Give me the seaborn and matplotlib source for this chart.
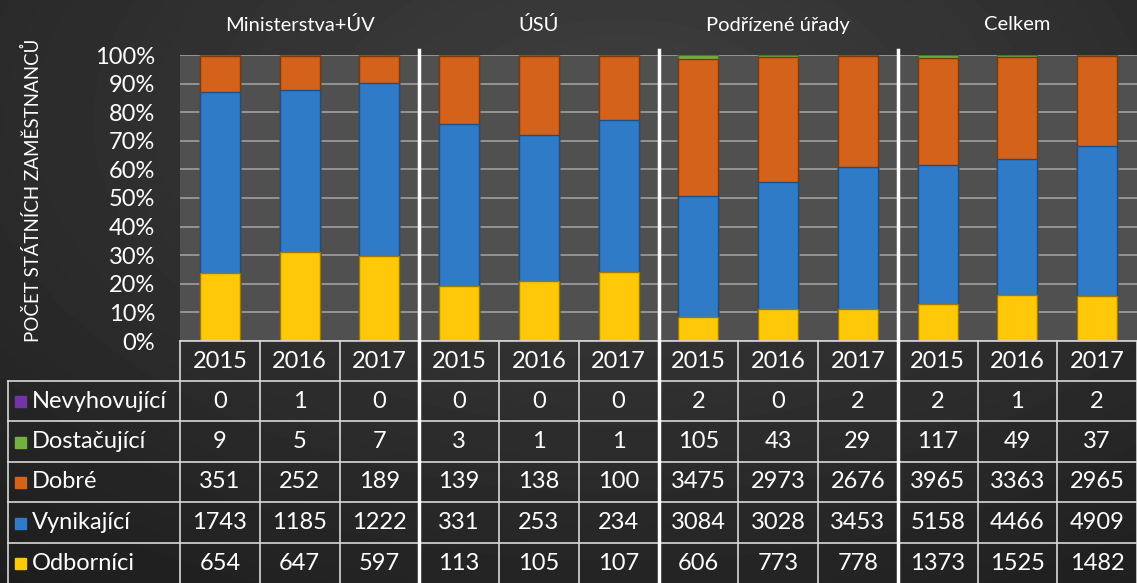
import numpy as np
import pandas as pd
import matplotlib
matplotlib.use("Agg")
import matplotlib.pyplot as plt
import seaborn as sns

# Data
skupiny = ['Ministerstva+ÚV', 'ÚSÚ', 'Podřízené úřady', 'Celkem']
roky = ['2015', '2016', '2017'] * 4
nevyhovujici = [0, 1, 0, 0, 0, 0, 2, 0, 2, 2, 1, 2]
dostacujici = [9, 5, 7, 3, 1, 1, 105, 43, 29, 117, 49, 37]
dobre = [351, 252, 189, 139, 138, 100, 3475, 2973, 2676, 3965, 3363, 2965]
vynikajici = [1743, 1185, 1222, 331, 253, 234, 3084, 3028, 3453, 5158, 4466, 4909]
odbornici = [654, 647, 597, 113, 105, 107, 606, 773, 778, 1373, 1525, 1482]

# bottom -> top stacking order
serie = ['Odborníci', 'Vynikající', 'Dobré', 'Dostačující', 'Nevyhovující']
hodnoty = [odbornici, vynikajici, dobre, dostacujici, nevyhovujici]
barvy = ['#FFC808', '#2F7BC8', '#D4621A', '#73B043', '#7334A6']
okraje = ['#A07800', '#1D4F85', '#7E380C', '#4A7A28', '#4A1F70']

df = pd.DataFrame(dict(zip(serie, hodnoty)))
df['sloupec'] = range(len(roky))
podil = df[serie].div(df[serie].sum(axis=1), axis=0)
kumul = podil.cumsum(axis=1)

W, H = 1137, 583
fig = plt.figure(figsize=(W / 100, H / 100), dpi=100)

# background gradient
bg = fig.add_axes([0, 0, 1, 1], zorder=-5)
yy, xx = np.mgrid[0:H, 0:W]
r = np.sqrt(((xx - 620) / 900.0) ** 2 + ((yy - 120) / 520.0) ** 2)
grad = np.clip(0.25 - 0.12 * r, 0.11, 0.25)
bg.imshow(grad, cmap='gray', vmin=0, vmax=1, aspect='auto', extent=[0, W, H, 0])
bg.set_xlim(0, W)
bg.set_ylim(H, 0)
bg.axis('off')

# plot area
L, R, T, B = 180, 1137, 55, 341
ax = fig.add_axes([L / W, (H - B) / H, (R - L) / W, (B - T) / H])
ax.set_facecolor('#505050')
for i in reversed(range(len(serie))):
    sns.barplot(x=df['sloupec'], y=kumul[serie[i]], color=barvy[i], width=0.5,
                saturation=1, edgecolor=okraje[i], linewidth=1.0, ax=ax, zorder=3)
ax.set_xlim(-0.5, 11.5)
ax.set_ylim(0, 1)
ax.set_yticks(np.arange(0, 1.01, 0.1))
ax.set_yticklabels([f'{int(round(v * 100))}%' for v in np.arange(0, 1.01, 0.1)],
                   color='white', fontsize=17, family='Lato')
ax.tick_params(axis='y', length=0, pad=18)
ax.set_xticks([])
ax.set_xlabel('')
ax.set_ylabel('')
ax.grid(axis='y', color='#9a9a9a', linewidth=1.3, zorder=0)
ax.set_axisbelow(True)
for s in ax.spines.values():
    s.set_visible(False)

# overlay for the table, titles and separators (pixel coords)
ov = fig.add_axes([0, 0, 1, 1], zorder=5)
ov.set_xlim(0, W)
ov.set_ylim(H, 0)
ov.axis('off')
ov.patch.set_alpha(0)

cw = (R - L) / 12
barva_car = '#d8d8d8'
txt = dict(color='white', family='Lato', fontsize=17, va='center')

# header row with years
ov.plot([L, R], [B, B], color=barva_car, lw=1.2)
radky = [381, 421, 462, 502, 543, 583]
for y in radky[:-1]:
    ov.plot([8, R], [y, y], color=barva_car, lw=1.2)
ov.plot([8, 8], [381, H], color=barva_car, lw=1.2)
for k in range(13):
    ov.plot([L + k * cw, L + k * cw], [B, H], color=barva_car, lw=1.2)
for j, rok in enumerate(roky):
    ov.text(L + (j + 0.5) * cw, (B + 381) / 2, rok, ha='center', **txt)

# data rows (top -> bottom as in the chart)
for ri, idx in enumerate(reversed(range(len(serie)))):
    yc = (radky[ri] + radky[ri + 1]) / 2
    ov.add_patch(plt.Rectangle((15, yc - 5), 11, 11, color=barvy[idx], zorder=6))
    ov.text(32, yc, serie[idx], ha='left', **txt)
    for j, v in enumerate(hodnoty[idx]):
        ov.text(L + (j + 0.5) * cw, yc, str(v), ha='center', **txt)

# group separators and titles
for g in range(1, 4):
    x = L + 3 * g * cw
    ov.plot([x, x], [50, H], color='white', lw=2.5)
for g, nazev in enumerate(skupiny):
    ov.text(L + (3 * g + 1.5) * cw, 25, nazev, ha='center', color='white',
            family='Lato', fontsize=14.5, va='center')

ov.text(32, 190, 'POČET STÁTNÍCH ZAMĚSTNANCŮ', rotation=90, ha='center',
        va='center', color='white', family='Lato', fontsize=13.5)

fig.savefig('out.png', dpi=100)
